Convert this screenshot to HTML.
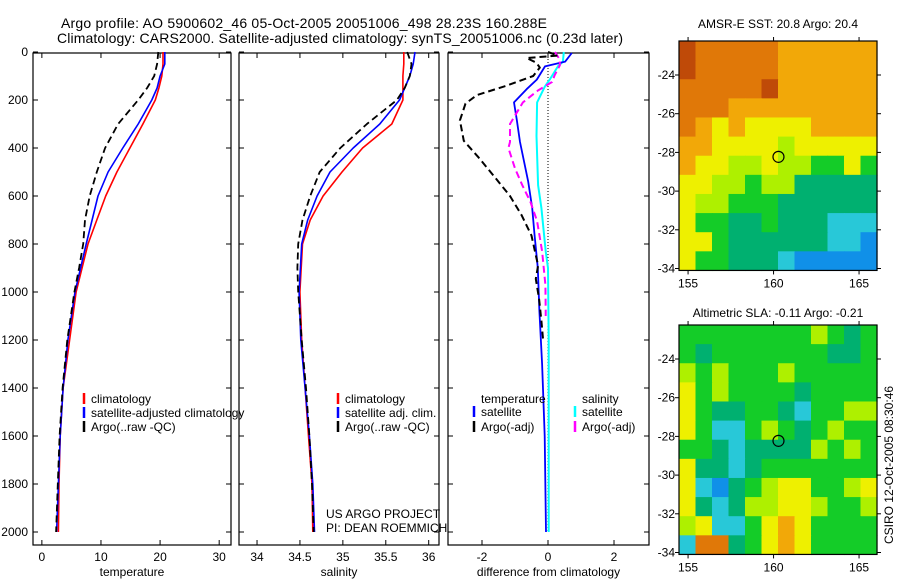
<!DOCTYPE html>
<html><head><meta charset="utf-8"><style>
html,body{margin:0;padding:0;background:#fff;}
svg{display:block;font-family:"Liberation Sans",sans-serif;}
</style></head><body>
<svg id="fig" width="900" height="580" viewBox="0 0 900 580">
<text x="304" y="28" font-size="14" text-anchor="middle" textLength="486">Argo profile: AO 5900602_46 05-Oct-2005 20051006_498 28.23S 160.288E</text>
<text x="340" y="43" font-size="14" text-anchor="middle" textLength="566">Climatology: CARS2000. Satellite-adjusted climatology: synTS_20051006.nc (0.23d later)</text>
<g id="plots"></g>
<text x="778" y="28" font-size="12" text-anchor="middle">AMSR-E SST: 20.8 Argo: 20.4</text>
<text x="778" y="317" font-size="12" text-anchor="middle">Altimetric SLA: -0.11 Argo: -0.21</text>
<text x="0" y="0" font-size="12" text-anchor="middle" transform="translate(893,465) rotate(-90)">CSIRO 12-Oct-2005 08:30:46</text>
<text x="326" y="518" font-size="12">US ARGO PROJECT</text>
<text x="326" y="532" font-size="12">PI: DEAN ROEMMICH</text>
</svg>
<script>
// ---- data ----
const depths = [0,50,100,150,200,300,400,500,600,700,800,1000,1200,1400,1600,1800,2000];
const tempClim = [20.5,20.5,20.3,19.8,19.2,17.1,14.9,12.7,10.8,9.3,7.8,5.8,4.7,3.6,3.1,2.9,2.8];
const tempSat  = [20.8,20.8,20.0,19.5,18.6,16.3,13.7,11.2,9.5,8.5,7.5,5.6,4.4,3.6,3.1,2.8,2.5];
const argoDepths = [0,50,100,150,200,300,400,500,600,700,800,900,1000,1200,1400,1600,1800,2000];
const tempArgo = [19.7,19.5,19.0,17.8,16.3,12.9,10.7,9.3,8.1,7.3,7.0,6.3,5.5,4.3,3.5,3.0,2.7,2.4];
const salClim = [35.71,35.71,35.70,35.70,35.70,35.57,35.23,34.99,34.77,34.62,34.53,34.50,34.52,34.56,34.60,34.64,34.65];
const salSat  = [35.84,35.82,35.78,35.72,35.66,35.43,35.12,34.85,34.70,34.59,34.52,34.49,34.51,34.56,34.61,34.65,34.67];
const salArgo = [35.75,35.80,35.78,35.72,35.63,35.28,34.97,34.73,34.62,34.53,34.48,34.47,34.48,34.52,34.57,34.61,34.64,34.66];
const dTsDepth = [4,40,60,115,155,210,280,375,540,650,760,900,1080,1300,1600,2000];
const dTsat = [0.72,0.52,-0.09,-0.34,-0.65,-1.03,-0.95,-0.85,-0.6,-0.48,-0.41,-0.31,-0.26,-0.18,-0.1,-0.06];
const dSsDepth = [0,40,60,115,145,210,350,555,650,830,900,1200,1600,2000];
const dSsat = [0.48,0.45,0.3,0.05,-0.1,-0.33,-0.35,-0.3,-0.2,-0.07,0.0,0.02,0.02,0.02];
const dSaDepth = [0,30,55,97,125,160,210,265,300,375,400,485,555,625,705,830,970,1075,1100];
const dSargo = [0.21,0.35,0.36,0.2,0.12,-0.3,-0.76,-1.0,-1.15,-1.15,-1.2,-1.0,-0.78,-0.53,-0.33,-0.18,-0.08,-0.07,-0.07];
const dTaDepth = [0,15,25,45,65,100,140,180,215,285,370,440,515,600,680,765,890,945,1030,1120,1200];
const dTargo = [0.0,0.3,-0.65,-0.35,-0.25,-0.45,-1.25,-2.16,-2.5,-2.67,-2.55,-2.1,-1.65,-1.15,-0.8,-0.5,-0.3,-0.37,-0.27,-0.2,-0.15];
const depthTicks = [0,200,400,600,800,1000,1200,1400,1600,1800,2000];
const tempTicks = [0,10,20,30];
const salTicks = [34,34.5,35,35.5,36];
const salTickLabels = ["34","34.5","35","35.5","36"];
const diffTicks = [-2,0,2];
const lonTicks = [155,160,165];
const latTicks = [24,26,28,30,32,34];
// map grids: 1-degree cells, rows from north (22.25S) to south, cols from 154.5E
const sstGrid = [
"ROOOOOAAAAAA","ROOOOOAAAAAA","OOOOORAAAAAA","OOOAAAAAAAAA",
"OAYAYYYYAAAA","AAYYYYLYYYYY","AYYLLYLLGGYG","YYLLGLLgggggg",
"YLLGGGgggggg","YGGggGgggCCC","YYGggggggCCB","YGGgggCBBBBB"];
const slaGrid = [
"GGGGGGGGLGgG","GgGGGGGGGggG","LGLGGGLGGGGG","YGLGGGGgGGGG",
"YGggGGgCGGLL","YGCCGLGgGLGG","GGgCggggLGLG","YggCgGGGGGGG",
"YCBgGLYYGGLY","YgCgLLYYLGGL","LYCCGYAYGGGG","COOgGYAYGGGG"];
const cellColors = {R:"#bf4a08",O:"#e07808",A:"#f2a808",Y:"#eef000",L:"#aef000",G:"#14cc28",g:"#00b070",C:"#28c8d8",B:"#1090e8"};
const floatLon = 160.288, floatLat = 28.23;

// ---- helpers ----
const NS="http://www.w3.org/2000/svg";
const root=document.getElementById('plots');
function mk(tag,attrs,parent){const e=document.createElementNS(NS,tag);for(const k in attrs)e.setAttribute(k,attrs[k]);(parent||root).appendChild(e);return e;}
const yTop=52, yPx=0.24, boxTop=53, boxBot=545;
const yD=d=>yTop+d*yPx;

function panel(name,x0,x1,vmin,vmax,ticks,labels,xlabel,showY){
  const g=mk('g',{});
  
  
  const sx=v=>x0+(v-vmin)/(vmax-vmin)*(x1-x0);
  const r=mk('rect',{x:x0,y:boxTop,width:x1-x0,height:boxBot-boxTop,fill:'none',stroke:'#000','stroke-width':1.2},g);
  
  
  depthTicks.forEach(d=>{
    mk('line',{x1:x0,x2:x0+5,y1:yD(d),y2:yD(d),stroke:'#000'},g);
    mk('line',{x1:x1,x2:x1-5,y1:yD(d),y2:yD(d),stroke:'#000'},g);
    if(showY){const t=mk('text',{x:x0-5,y:yD(d)+4,'font-size':12,'text-anchor':'end'},g);t.textContent=d;
      
      }
  });
  ticks.forEach((v,i)=>{
    mk('line',{x1:sx(v),x2:sx(v),y1:boxTop,y2:boxTop+5,stroke:'#000'},g);
    mk('line',{x1:sx(v),x2:sx(v),y1:boxBot,y2:boxBot-5,stroke:'#000'},g);
    const t=mk('text',{x:sx(v),y:561,'font-size':12,'text-anchor':'middle'},g);t.textContent=labels[i];
    
    
  });
  const t=mk('text',{x:(x0+x1)/2,y:576,'font-size':12,'text-anchor':'middle'},g);t.textContent=xlabel;
  
  
  return {g,sx};
}
function line(p,ds,vs,color,w,dash,name){
  const pts=ds.map((d,i)=>p.sx(vs[i]).toFixed(1)+','+yD(d).toFixed(1)).join(' ');
  const a={points:pts,fill:'none',stroke:color,'stroke-width':w,'stroke-linejoin':'round'};
  if(dash)a['stroke-dasharray']=dash;
  const e=mk('polyline',a,p.g);
  
  
}
function legend(g,x,y,color,label,name){
  mk('line',{x1:x,x2:x,y1:y-10,y2:y+1,stroke:color,'stroke-width':2.5},g);
  const t=mk('text',{x:x+7,y:y,'font-size':12},g);t.textContent=label;
  
  
}

// temperature panel
const pT=panel('temperature-panel',33,231,-1.5,32,tempTicks,tempTicks.map(String),'temperature',true);
line(pT,depths,tempClim,'#f00',1.6,null,'temp-climatology-line');
line(pT,depths,tempSat,'#00f',1.6,null,'temp-satellite-line');
line(pT,argoDepths,tempArgo,'#000',1.8,'7,4','temp-argo-line');
legend(pT.g,84,403,'#f00','climatology','legend-climatology');
legend(pT.g,84,417,'#00f','satellite-adjusted climatology','legend-satellite-adjusted');
legend(pT.g,84,431,'#000','Argo(..raw -QC)','legend-argo');

// salinity panel
const pS=panel('salinity-panel',239,439,33.79,36.12,salTicks,salTickLabels,'salinity',false);
line(pS,depths,salClim,'#f00',1.6,null,'sal-climatology-line');
line(pS,depths,salSat,'#00f',1.6,null,'sal-satellite-line');
line(pS,argoDepths,salArgo,'#000',1.8,'7,4','sal-argo-line');
legend(pS.g,338,403,'#f00','climatology','legend-sal-climatology');
legend(pS.g,338,417,'#00f','satellite adj. clim.','legend-sal-satellite');
legend(pS.g,338,431,'#000','Argo(..raw -QC)','legend-sal-argo');

// difference panel
const pD=panel('difference-panel',448,649,-3.03,3.06,diffTicks,diffTicks.map(String),'difference from climatology',false);
mk('line',{x1:pD.sx(0),x2:pD.sx(0),y1:boxTop,y2:yD(2000),stroke:'#000','stroke-dasharray':'1,2'},pD.g);
line(pD,dSsDepth,dSsat,'#0ff',2,null,'diff-sal-satellite-line');
line(pD,dTsDepth,dTsat,'#00f',1.8,null,'diff-temp-satellite-line');
line(pD,dSaDepth,dSargo,'#f0f',2,'7,4','diff-sal-argo-line');
line(pD,dTaDepth,dTargo,'#000',2,'7,4','diff-temp-argo-line');
{const t=mk('text',{x:481,y:403,'font-size':12},pD.g);t.textContent='temperature';


const s=mk('text',{x:582,y:403,'font-size':12},pD.g);s.textContent='salinity';

}
legend(pD.g,474,416,'#00f','satellite','legend-diff-temp-satellite');
legend(pD.g,474,431,'#000','Argo(-adj)','legend-diff-temp-argo');
legend(pD.g,575,416,'#0ff','satellite','legend-diff-sal-satellite');
legend(pD.g,575,431,'#f0f','Argo(-adj)','legend-diff-sal-argo');

// maps
function map(name,grid,top,lat24y){
  const g=mk('g',{});
  
  
  const L=679,R=877,lonMin=154.47,lonMax=166.05,pxLat=19.35;
  const sx=lo=>L+(lo-lonMin)/(lonMax-lonMin)*(R-L);
  const sy=la=>lat24y+(la-24)*pxLat;
  const bot=sy(34.1);
  const cw=(R-L)/grid[0].length, ch=(bot-top)/grid.length;
  grid.forEach((row,ri)=>{for(let ci=0;ci<12;ci++){
    const c=mk('rect',{x:(L+ci*cw).toFixed(2),y:(top+ri*ch).toFixed(2),width:(cw+0.6).toFixed(2),height:(ch+0.6).toFixed(2),fill:cellColors[row[ci]]},g);
  }});
  mk('rect',{x:L,y:top,width:R-L,height:bot-top,fill:'none',stroke:'#000','stroke-width':1.2},g);
  latTicks.forEach(la=>{
    mk('line',{x1:L-4,x2:L,y1:sy(la),y2:sy(la),stroke:'#000'},g);
    mk('line',{x1:R,x2:R+4,y1:sy(la),y2:sy(la),stroke:'#000'},g);
    const t=mk('text',{x:L-4,y:sy(la)+4,'font-size':12,'text-anchor':'end'},g);t.textContent='-'+la;
    
    
  });
  lonTicks.forEach(lo=>{
    mk('line',{x1:sx(lo),x2:sx(lo),y1:bot,y2:bot+4,stroke:'#000'},g);
    mk('line',{x1:sx(lo),x2:sx(lo),y1:top-4,y2:top,stroke:'#000'},g);
    const t=mk('text',{x:sx(lo),y:bot+17,'font-size':12,'text-anchor':'middle'},g);t.textContent=lo;
    
    
  });
  const c=mk('circle',{cx:sx(floatLon),cy:sy(floatLat),r:5.5,fill:'none',stroke:'#000','stroke-width':1.2},g);
  
  
}
map('sst-map',sstGrid,41,75);
map('sla-map',slaGrid,325,359);
</script>
</body></html>
